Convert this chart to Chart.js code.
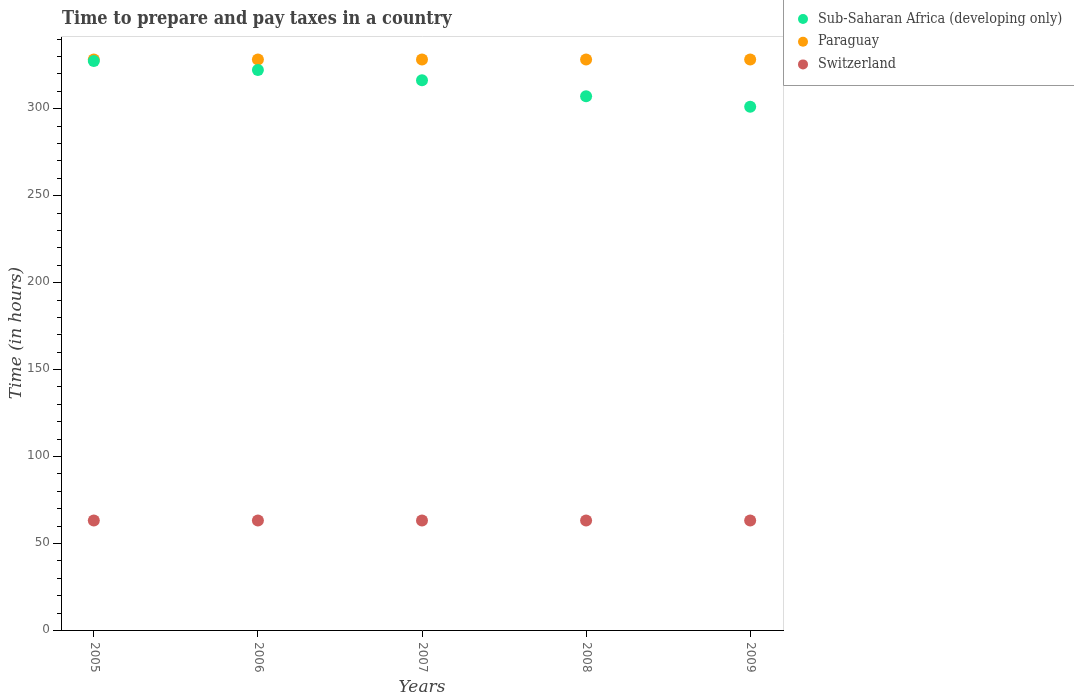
<!DOCTYPE html>
<html>
<head>
<meta charset="utf-8">
<title>Time to prepare and pay taxes in a country</title>
<script src="https://cdn.jsdelivr.net/npm/chart.js@4"></script>
<style>
    html, body { margin: 0; padding: 0; background: #fff; }
</style>
</head>
<body>
<canvas id="taxChart" width="1074" height="700"></canvas>
<script>
// Chart data
const years = [2005, 2006, 2007, 2008, 2009];
const subSaharan = [327.1, 322, 316, 306.8, 300.8];
const paraguay = [328, 328, 328, 328, 328];
const switzerland = [63, 63, 63, 63, 63];
const yLabelStep = 50;
const yMinorStep = 10;

function toPoints(values) {
    return values.map(function(v, i) { return { x: years[i], y: v }; });
}

// Title, legend, rotated year labels and the plot frame
const decorPlugin = {
    id: 'decor',
    afterDraw: function(chart) {
        const ctx = chart.ctx;
        const area = chart.chartArea;
        const xScale = chart.scales.x;
        const yScale = chart.scales.y;

        ctx.save();

        // light frame on top and right
        ctx.strokeStyle = '#dddddd';
        ctx.lineWidth = 1;
        ctx.beginPath();
        ctx.moveTo(area.left, area.top + 0.5);
        ctx.lineTo(area.right + 0.5, area.top + 0.5);
        ctx.lineTo(area.right + 0.5, area.bottom);
        ctx.stroke();

        // minor ticks on the y axis
        ctx.strokeStyle = '#000';
        yScale.ticks.forEach(function(t) {
            if (t.value % yLabelStep === 0) return;
            const py = Math.round(yScale.getPixelForValue(t.value)) + 0.5;
            ctx.beginPath();
            ctx.moveTo(area.left - 4, py);
            ctx.lineTo(area.left, py);
            ctx.stroke();
        });

        // year labels, rotated clockwise
        ctx.fillStyle = '#666';
        ctx.font = '12px "DejaVu Sans"';
        ctx.textAlign = 'left';
        ctx.textBaseline = 'middle';
        xScale.ticks.forEach(function(t) {
            const px = xScale.getPixelForValue(t.value);
            ctx.save();
            ctx.translate(px, area.bottom + 12);
            ctx.rotate(Math.PI / 2);
            ctx.fillText(String(t.value), 0, 0);
            ctx.restore();
        });

        // title
        ctx.fillStyle = '#444';
        ctx.font = 'bold 18px "DejaVu Serif Condensed", "DejaVu Serif"';
        ctx.textAlign = 'left';
        ctx.textBaseline = 'middle';
        ctx.fillText('Time to prepare and pay taxes in a country', area.left + 1, 19);

        // legend box
        ctx.strokeStyle = '#999';
        ctx.beginPath();
        ctx.moveTo(783.5, 0);
        ctx.lineTo(783.5, 85.5);
        ctx.lineTo(chart.width, 85.5);
        ctx.stroke();

        ctx.font = '14.3px "DejaVu Serif Condensed", "DejaVu Serif"';
        chart.data.datasets.forEach(function(ds, i) {
            const cy = 19 + i * 22.7;
            ctx.fillStyle = ds.backgroundColor;
            ctx.beginPath();
            ctx.arc(803, cy, 5, 0, Math.PI * 2);
            ctx.fill();
            ctx.fillStyle = '#444';
            ctx.fillText(ds.label, 818, cy);
        });

        ctx.restore();
    }
};

const canvas = document.getElementById('taxChart');
new Chart(canvas.getContext('2d'), {
    type: 'scatter',
    data: {
        datasets: [
            {
                label: 'Sub-Saharan Africa (developing only)',
                data: toPoints(subSaharan),
                backgroundColor: '#12e894',
                borderWidth: 0,
                pointRadius: 6,
                pointHoverRadius: 6
            },
            {
                label: 'Paraguay',
                data: toPoints(paraguay),
                backgroundColor: '#ff9e08',
                borderWidth: 0,
                pointRadius: 6,
                pointHoverRadius: 6
            },
            {
                label: 'Switzerland',
                data: toPoints(switzerland),
                backgroundColor: '#cd5c5c',
                borderWidth: 0,
                pointRadius: 6,
                pointHoverRadius: 6
            }
        ]
    },
    options: {
        responsive: false,
        animation: false,
        devicePixelRatio: 1,
        layout: {
            padding: { left: 0, top: 36, right: 291, bottom: 0 }
        },
        plugins: {
            legend: { display: false },
            title: { display: false },
            tooltip: { enabled: false }
        },
        scales: {
            x: {
                type: 'linear',
                min: 2004.8,
                max: 2009.2,
                afterFit: function(scale) { scale.height = 70; },
                afterBuildTicks: function(scale) {
                    scale.ticks = years.map(function(y) { return { value: y }; });
                },
                ticks: { display: false },
                grid: { drawOnChartArea: false, tickLength: 7, color: '#000' },
                border: { color: '#000', width: 1 },
                title: {
                    display: true,
                    text: 'Years',
                    color: '#444',
                    font: { family: 'DejaVu Serif', style: 'italic', size: 17 },
                    padding: { top: 0, bottom: 2 }
                }
            },
            y: {
                min: 0,
                max: 341.5,
                afterFit: function(scale) { scale.width = 61; },
                ticks: {
                    stepSize: yMinorStep,
                    includeBounds: false,
                    autoSkip: false,
                    padding: 3,
                    color: '#666',
                    font: { family: 'DejaVu Sans', size: 12 },
                    callback: function(value) {
                        return value % yLabelStep === 0 ? value : '';
                    }
                },
                grid: {
                    drawOnChartArea: false,
                    tickLength: 8,
                    tickColor: function(c) {
                        return c.tick && c.tick.value % yLabelStep === 0 ? '#000' : 'rgba(0,0,0,0)';
                    }
                },
                border: { color: '#000', width: 1 },
                title: {
                    display: true,
                    text: 'Time (in hours)',
                    color: '#444',
                    font: { family: 'DejaVu Serif', style: 'italic', size: 17 },
                    padding: { top: 6, bottom: 0 }
                }
            }
        }
    },
    plugins: [decorPlugin]
});
</script>
</body>
</html>
